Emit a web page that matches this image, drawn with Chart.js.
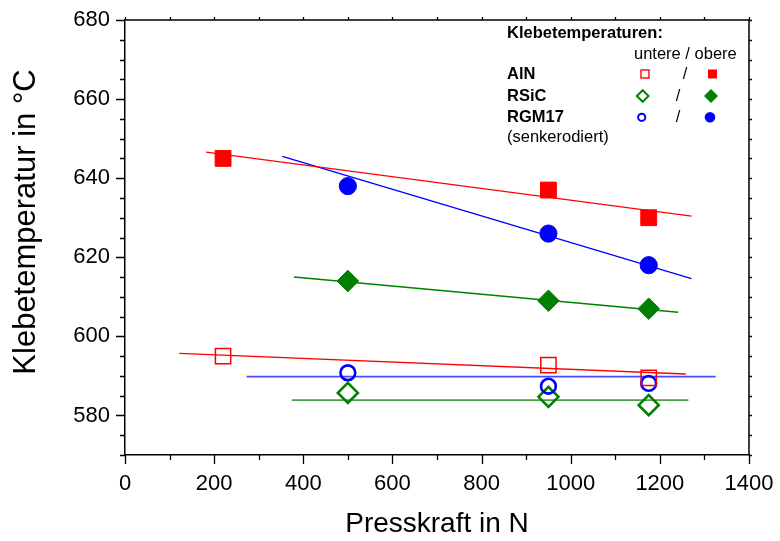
<!DOCTYPE html>
<html>
<head>
<meta charset="utf-8">
<script src="https://cdn.jsdelivr.net/npm/chart.js@4/dist/chart.umd.min.js"></script>
<style>
html,body{margin:0;padding:0;background:#fff;}
canvas{display:block;}
</style>
</head>
<body>
<canvas id="c" width="780" height="541"></canvas>
<script>
// ---- data ----
const alnForce = [220, 950, 1175];
const alnUpper = [645, 637, 630];
const alnLower = [595, 592.7, 589.5];

const rsicForce = [500, 950, 1175];
const rsicUpper = [614, 609, 607];
const rsicLower = [585.7, 584.7, 582.6];

const rgmForce = [500, 950, 1175];
const rgmUpper = [638, 626, 618];
const rgmLower = [590.8, 587.4, 588.1];

// fitted lines (start / end)
const alnUpperFitX = [182, 1271];  const alnUpperFitY = [646.6, 630.4];
const rgmUpperFitX = [353, 1271];  const rgmUpperFitY = [645.5, 614.6];
const rsicUpperFitX = [379, 1241]; const rsicUpperFitY = [615.0, 606.1];
const alnLowerFitX = [122, 1258];  const alnLowerFitY = [595.7, 590.5];
const rgmLowerFitX = [273, 1325];  const rgmLowerFitY = [589.8, 589.8];
const rsicLowerFitX = [374, 1264]; const rsicLowerFitY = [583.9, 583.9];

const xTicks = [0, 200, 400, 600, 800, 1000, 1200, 1400];
const yTicks = [580, 600, 620, 640, 660, 680];
const xMinorStep = 100;
const yMinorStep = 5;

const xTitle = 'Presskraft in N';
const yTitle = 'Klebetemperatur in °C';
const legendTitle = 'Klebetemperaturen:';
const legendSub = 'untere / obere';
const legendNames = ['AlN', 'RSiC', 'RGM17'];
const legendNote = '(senkerodiert)';

const RED = '#ff0000', GREEN = '#008000', BLUE = '#0000ff';
const FONT = "'Liberation Sans', Arial, sans-serif";

function pts(xs, ys) { return xs.map((x, i) => ({x: x, y: ys[i]})); }

function fitSet(xs, ys, color, width) {
  return {type: 'line', data: pts(xs, ys), borderColor: color, borderWidth: width,
          pointRadius: 0, showLine: true, fill: false, order: 5, tension: 0};
}
function markSet(xs, ys, style, color, filled, radius, bw) {
  return {data: pts(xs, ys), showLine: false, pointStyle: style, pointRadius: radius,
          pointHoverRadius: radius, backgroundColor: filled ? color : 'rgba(0,0,0,0)',
          borderColor: color, borderWidth: bw, order: 1};
}

const datasets = [
  fitSet(alnUpperFitX, alnUpperFitY, RED, 1.4),
  fitSet(rgmUpperFitX, rgmUpperFitY, BLUE, 1.4),
  fitSet(rsicUpperFitX, rsicUpperFitY, GREEN, 1.4),
  fitSet(alnLowerFitX, alnLowerFitY, RED, 1.4),
  fitSet(rgmLowerFitX, rgmLowerFitY, '#4848ff', 1.8),
  fitSet(rsicLowerFitX, rsicLowerFitY, '#4a9e4a', 1.8),
  markSet(alnForce, alnUpper, 'rect', RED, true, 11.2, 1),
  markSet(rgmForce, rgmUpper, 'circle', BLUE, true, 8.6, 1),
  markSet(rsicForce, rsicUpper, 'rectRot', GREEN, true, 10.8, 1),
  markSet(alnForce, alnLower, 'rect', RED, false, 10.8, 1.5),
  markSet(rgmForce, rgmLower, 'circle', BLUE, false, 7.4, 2.6),
  markSet(rsicForce, rsicLower, 'rectRot', GREEN, false, 10, 2.6)
];

const decor = {
  id: 'decor',
  afterDraw(chart) {
    const ctx = chart.ctx, xs = chart.scales.x, ys = chart.scales.y;
    const a = chart.chartArea;
    ctx.save();
    ctx.strokeStyle = '#000';
    ctx.lineWidth = 1.5;
    // frame (top and right)
    ctx.beginPath();
    ctx.moveTo(a.left, a.top); ctx.lineTo(a.right, a.top); ctx.lineTo(a.right, a.bottom);
    ctx.stroke();
    ctx.lineWidth = 1.3;
    ctx.beginPath();
    // x ticks
    for (let v = xs.min; v <= xs.max + 0.01; v += xMinorStep) {
      const px = Math.round(xs.getPixelForValue(v)) + 0.5;
      const major = xTicks.includes(v);
      ctx.moveTo(px, a.bottom); ctx.lineTo(px, a.bottom + (major ? 9 : 5));
      ctx.moveTo(px, a.top); ctx.lineTo(px, a.top - 3);
    }
    // y ticks
    for (let v = ys.min; v <= ys.max + 0.01; v += yMinorStep) {
      const py = Math.round(ys.getPixelForValue(v)) + 0.5;
      const major = yTicks.includes(v);
      ctx.moveTo(a.left, py); ctx.lineTo(a.left - (major ? 9 : 5), py);
      ctx.moveTo(a.right, py); ctx.lineTo(a.right + 3, py);
    }
    ctx.stroke();

    // y axis title
    ctx.fillStyle = '#000';
    ctx.save();
    ctx.translate(26, 222);
    ctx.rotate(-Math.PI / 2);
    ctx.textAlign = 'center';
    ctx.textBaseline = 'middle';
    ctx.font = '31px ' + FONT;
    ctx.fillText(yTitle, 0, 0);
    ctx.restore();

    // legend
    ctx.textBaseline = 'alphabetic';
    ctx.textAlign = 'left';
    ctx.font = 'bold 16.5px ' + FONT;
    ctx.fillText(legendTitle, 507, 38);
    ctx.fillText(legendNames[0], 507, 79);
    ctx.fillText(legendNames[1], 507, 101);
    ctx.fillText(legendNames[2], 507, 122);
    ctx.font = '16.5px ' + FONT;
    ctx.fillText(legendSub, 634, 59);
    ctx.fillText(legendNote, 507, 142);
    ctx.textAlign = 'center';
    ctx.fillText('/', 685, 79);
    ctx.fillText('/', 678, 101);
    ctx.fillText('/', 678, 122);

    // legend markers
    ctx.lineWidth = 1.4;
    ctx.strokeStyle = RED; ctx.fillStyle = RED;
    ctx.strokeRect(641, 70, 8, 8);
    ctx.fillRect(708, 69.5, 9, 9);
    ctx.lineWidth = 2;
    ctx.strokeStyle = GREEN; ctx.fillStyle = GREEN;
    const dia = (cx, cy, r) => { ctx.beginPath(); ctx.moveTo(cx, cy - r); ctx.lineTo(cx + r, cy); ctx.lineTo(cx, cy + r); ctx.lineTo(cx - r, cy); ctx.closePath(); };
    dia(642.7, 96, 5.8); ctx.stroke();
    dia(711, 96, 7); ctx.fill();
    ctx.strokeStyle = BLUE; ctx.fillStyle = BLUE;
    ctx.beginPath(); ctx.arc(641.7, 117.3, 3.6, 0, Math.PI * 2); ctx.stroke();
    ctx.beginPath(); ctx.arc(710, 117.3, 5.3, 0, Math.PI * 2); ctx.fill();
    ctx.restore();
  }
};

new Chart(document.getElementById('c'), {
  type: 'scatter',
  data: {datasets: datasets},
  plugins: [decor],
  options: {
    responsive: false,
    animation: false,
    devicePixelRatio: 1,
    layout: {padding: {top: 20, right: 31, left: 0, bottom: 0}},
    plugins: {legend: {display: false}, tooltip: {enabled: false}},
    scales: {
      x: {
        type: 'linear', min: 0, max: 1400,
        afterBuildTicks: s => { s.ticks = xTicks.map(v => ({value: v})); },
        afterFit: s => { s.height = 86; s.paddingLeft = 0; s.paddingRight = 0; },
        grid: {display: false},
        border: {display: true, color: '#000', width: 1.5},
        ticks: {color: '#000', font: {family: FONT, size: 22}, padding: 8, maxRotation: 0,
                callback: v => String(v)},
        title: {display: true, text: xTitle, color: '#000',
                font: {family: FONT, size: 28}, padding: {top: 4, bottom: 0}}
      },
      y: {
        type: 'linear', min: 570, max: 680,
        afterBuildTicks: s => { s.ticks = yTicks.map(v => ({value: v})); },
        afterFit: s => { s.width = 125; s.paddingTop = 0; s.paddingBottom = 0; },
        grid: {display: false},
        border: {display: true, color: '#000', width: 1.5},
        ticks: {color: '#000', font: {family: FONT, size: 22}, padding: 7,
                callback: v => String(v)},
        title: {display: false}
      }
    }
  }
});
</script>
</body>
</html>
